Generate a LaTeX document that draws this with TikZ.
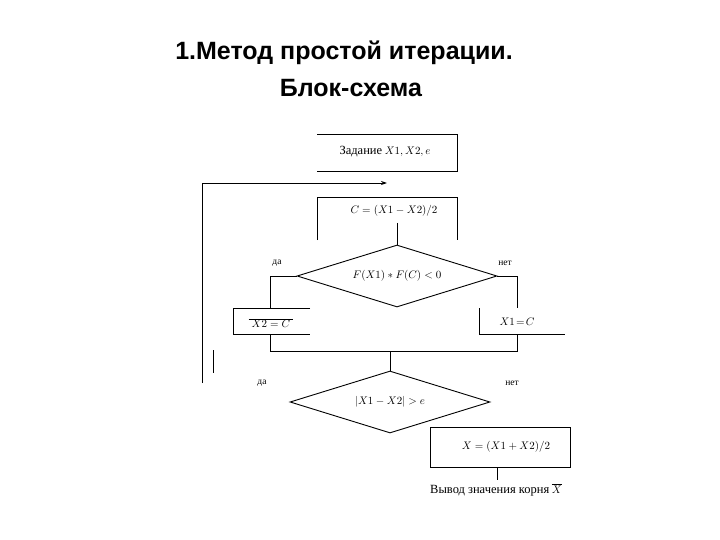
\documentclass[tikz,border=0pt]{standalone}
\usepackage{fontspec}
\setmainfont{Liberation Serif}
\newfontfamily\titlefont{Liberation Sans}
\usetikzlibrary{shapes.geometric,arrows.meta}
\newcommand{\cyr}{\fontsize{12.5}{14}\selectfont}
\begin{document}
\begin{tikzpicture}[x=1pt,y=-1pt,
  ln/.style={line width=0.9pt,black},
  txt/.style={font=\fontsize{10.5}{12}\selectfont,inner sep=0pt},
  lbl/.style={font=\fontsize{9.5}{10}\selectfont,inner sep=0pt},
  dia/.style={diamond,draw,ln,aspect=3.2,minimum width=200pt,minimum height=62pt,inner sep=0pt,font=\fontsize{10.5}{12}\selectfont},
  ttl/.style={font=\titlefont\bfseries\fontsize{25}{29}\selectfont,inner sep=0pt}]
\useasboundingbox (0,0) rectangle (720,540);
% title
\node[ttl] (t1) at (344,53) {1.Метод простой итерации.};
\node[ttl] (t2) at (351,88) {Блок-схема};
% box 1 (open at left)
\draw[ln] (317,134) -- (457,134) -- (457,171) -- (317,171);
\node[txt] (b1) at (385,152) {{\cyr Задание} $X1, X2, e$};
% loop line with arrow
\coordinate (lp1) at (202,383);
\coordinate (lp2) at (202,183);
\coordinate (lp3) at (387,183);
\draw[ln,-{Stealth[length=6pt,width=4pt]}] (lp1) -- (lp2) -- (lp3);
\coordinate (sm1) at (213,350);
\coordinate (sm2) at (213,373);
\draw[ln] (sm1) -- (sm2);
% box 2 (open at bottom)
\draw[ln] (317,240) -- (317,197) -- (457,197) -- (457,240);
\node[txt] (b2) at (394,211) {$C=(X1-X2)/2$};
\coordinate (b2s) at (397,223);
% diamond 1
\node[dia] (d1) at (397,276) {$F(X1)*F(C)<0$};
\draw[ln] (b2s) -- (d1.north);
\node[lbl] (yes1) at (277,263) {да};
\node[lbl] (no1) at (505,263) {нет};
% left branch
\coordinate (lb1) at (270,276);
\coordinate (lb2) at (270,308);
\draw[ln] (d1.west) -- (lb1) -- (lb2);
\draw[ln] (310,308) -- (233,308) -- (233,334) -- (310,334);
\node[txt] (bl) at (271,323) {$\overline{\;X2=C\;}$};
% right branch
\coordinate (rb1) at (517,276);
\coordinate (rb2) at (517,308);
\draw[ln] (d1.east) -- (rb1) -- (rb2);
\draw[ln] (479,308) -- (479,334) -- (565,334);
\node[txt] (br) at (517,322) {$X1\!=\!C$};
% join
\coordinate (j1) at (270,334);
\coordinate (j2) at (270,351);
\coordinate (j3) at (517,351);
\coordinate (j4) at (517,334);
\draw[ln] (j1) -- (j2) -- (j3) -- (j4);
\coordinate (jc) at (390,351);
% diamond 2
\node[dia] (d2) at (390,402) {$|X1-X2|>e$};
\draw[ln] (jc) -- (d2.north);
\node[lbl] (yes2) at (262,383) {да};
\node[lbl] (no2) at (512,383) {нет};
% box 3
\node[draw,ln,txt,minimum width=140pt,minimum height=40pt] (b3) at (500,447) {\hspace*{12pt}$X=(X1+X2)/2$};
\coordinate (b3o) at (497,480);
\draw[ln] (b3.south -| b3o) -- (b3o);
\node[txt] (out) at (496,490) {{\cyr Вывод значения корня} $\overline{X}$};
\end{tikzpicture}
\end{document}
